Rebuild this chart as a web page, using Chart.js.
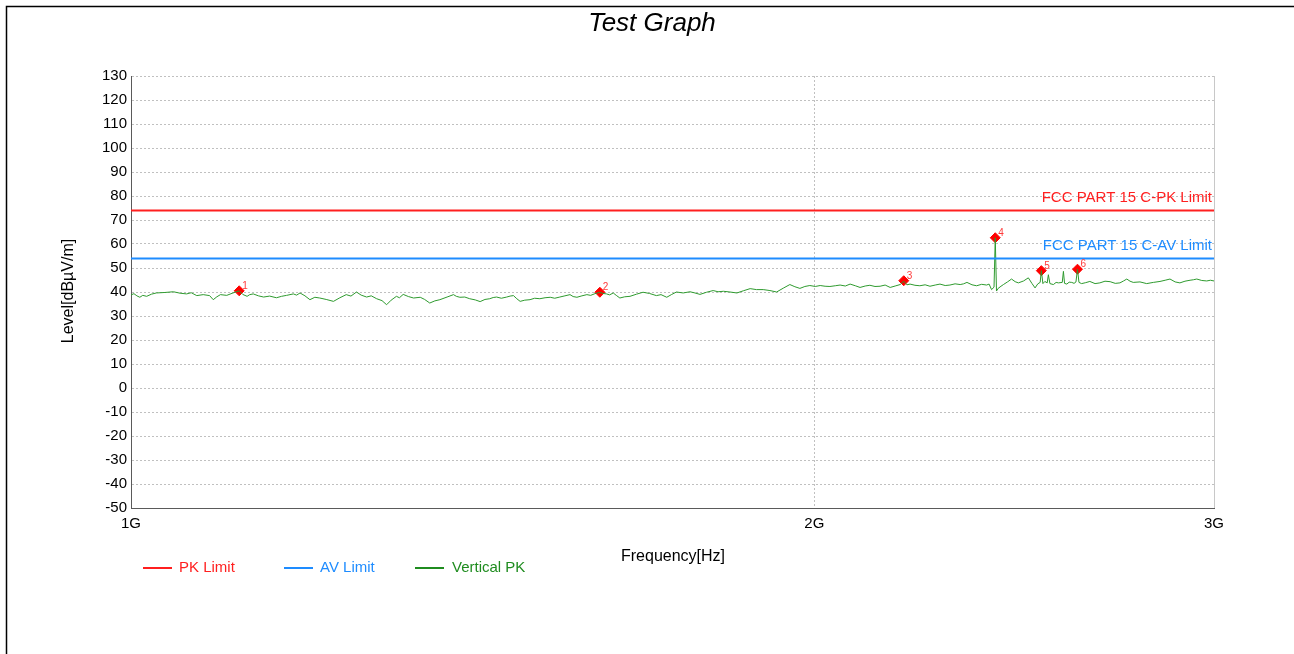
<!DOCTYPE html>
<html>
<head>
<meta charset="utf-8">
<script src="https://cdn.jsdelivr.net/npm/chart.js@4.4.0/dist/chart.umd.min.js"></script>
<style>
  html, body { margin: 0; padding: 0; background: #fff; }
  canvas { display: block; }
</style>
</head>
<body>
<canvas id="testGraph" width="1294" height="654"></canvas>
<script>
// frequency in MHz, level in dBuV/m
const freqMHz = [
  1000,1003,1006,1009,1012,1016,1021,1026,1035,1044,
  1051,1058,1063,1069,1076,1083,1087,1091,1095,1102,
  1109,1116,1120,1125,1128,1132,1138,1144,1151,1159,
  1165,1171,1179,1183,1187,1193,1199,1205,1211,1219,
  1228,1236,1244,1250,1257,1263,1270,1276,1283,1290,
  1296,1302,1309,1313,1318,1325,1332,1341,1347,1354,
  1361,1368,1378,1387,1391,1396,1403,1410,1418,1425,
  1432,1439,1444,1449,1456,1464,1469,1474,1479,1484,
  1491,1499,1506,1514,1522,1530,1537,1545,1553,1561,
  1566,1572,1580,1588,1594,1601,1609,1614,1620,1625,
  1631,1636,1642,1650,1659,1670,1681,1692,1704,1712,
  1722,1730,1739,1751,1763,1772,1781,1793,1805,1814,
  1824,1836,1849,1861,1874,1886,1899,1912,1925,1938,
  1951,1961,1971,1981,1991,2002,2012,2022,2032,2043,
  2053,2064,2074,2085,2095,2106,2116,2127,2138,2149,
  2160,2171,2182,2190,2197,2204,2215,2226,2238,2249,
  2261,2272,2284,2295,2307,2319,2327,2335,2347,2358,
  2370,2382,2388,2394,2400,2403,2406,2410,2417,2423,
  2433,2443,2452,2460,2473,2485,2494,2502,2509,2515,
  2518,2522,2527,2533,2536,2540,2549,2556,2562,2572,
  2575,2578,2584,2590,2597,2603,2608,2612,2616,2623,
  2634,2645,2659,2672,2686,2700,2714,2727,2737,2746,
  2755,2764,2783,2802,2821,2840,2855,2869,2884,2898,
  2913,2928,2938,2948,2963,2978,2989,3000
];
const verticalPK = [
  38.8,39.3,38.4,37.8,38.6,38.2,39.1,39.6,39.8,40.1,
  39.5,39.2,39.7,38.5,38.9,38.5,36.8,38.0,38.9,38.6,
  39.6,40.5,39.0,38.2,38.9,39.2,38.4,37.9,38.3,37.6,
  38.2,38.6,39.2,38.7,39.6,38.4,36.8,37.8,37.5,36.9,
  36.1,37.6,38.9,38.3,40.0,38.7,37.9,38.4,37.2,36.4,
  34.7,36.6,38.2,37.6,39.0,38.1,37.5,37.8,36.9,35.4,
  36.3,36.8,37.9,38.9,38.2,37.8,37.9,37.2,36.7,36.0,
  36.9,37.2,37.7,37.9,37.4,37.9,38.3,38.5,37.2,36.1,
  36.6,36.8,37.4,37.2,37.6,37.8,37.4,37.9,38.4,38.9,
  38.1,37.8,38.4,38.9,38.6,39.3,39.9,39.4,39.2,38.8,
  39.6,38.6,37.5,38.0,38.2,39.1,39.9,39.4,38.5,38.9,
  37.8,38.9,40.0,39.6,40.1,39.6,39.0,39.9,40.6,40.1,
  40.3,40.0,39.6,40.5,41.4,41.0,41.0,40.6,40.0,41.6,
  43.1,42.2,41.5,42.3,42.7,42.3,42.7,42.4,42.3,42.6,
  42.9,42.5,43.3,42.6,41.9,42.5,42.8,42.3,42.4,42.9,
  41.9,42.5,43.1,44.5,43.0,43.3,42.8,42.6,43.0,42.4,
  42.9,43.3,42.7,42.9,43.4,43.1,43.4,44.0,43.0,42.6,
  43.2,42.9,43.3,41.0,42.0,62.6,40.4,41.5,42.4,43.1,
  44.2,45.4,44.3,43.8,44.6,45.9,43.6,41.7,43.4,44.0,
  48.9,43.5,44.4,43.8,47.2,43.5,43.1,44.0,43.8,44.0,
  48.6,43.6,43.3,44.1,44.0,43.6,44.2,49.5,44.0,43.5,
  43.9,44.4,43.5,43.8,44.5,44.3,43.6,43.8,44.6,45.4,
  44.5,44.0,44.2,43.5,44.0,44.4,44.9,45.4,44.2,43.8,
  44.5,44.9,45.1,45.4,44.8,44.6,44.9,44.6
];

const markerFreq = [1116, 1609, 2190, 2403, 2518, 2612];
const markerLevel = [40.5, 39.9, 44.7, 62.6, 48.9, 49.5];
const markerNames = ['1', '2', '3', '4', '5', '6'];

const pkLimit = 74;
const avLimit = 54;
const xTicks = [1000, 2000, 3000];
const xTickLabels = ['1G', '2G', '3G'];

const RED = '#ff1f1f';
const BLUE = '#1e8cff';
const GREEN = '#2e9a2e';
const FONT = '"Liberation Sans", Arial, sans-serif';

// title, axis titles, limit texts, legend, frame
const extras = {
  id: 'extras',
  afterDraw(chart) {
    const c = chart.ctx;
    const area = chart.chartArea;
    const x = chart.scales.x, y = chart.scales.y;
    c.save();

    // frame
    c.strokeStyle = '#000';
    c.lineWidth = 1.5;
    c.beginPath();
    c.moveTo(6.5, 654);
    c.lineTo(6.5, 6.5);
    c.lineTo(1294, 6.5);
    c.stroke();

    // right edge of plot
    c.strokeStyle = '#c8c8c8';
    c.lineWidth = 1;
    c.beginPath();
    c.moveTo(area.right + 0.5, area.top);
    c.lineTo(area.right + 0.5, area.bottom);
    c.stroke();

    c.fillStyle = '#000';
    c.textAlign = 'center';
    c.textBaseline = 'alphabetic';
    c.font = 'italic 26px ' + FONT;
    c.fillText('Test Graph', 652, 31);

    c.font = '16px ' + FONT;
    c.textBaseline = 'middle';
    c.fillText('Frequency[Hz]', 673, 557);
    c.save();
    c.translate(69, 291);
    c.rotate(-Math.PI / 2);
    c.fillText('Level[dBµV/m]', 0, 0);
    c.restore();

    // limit texts
    c.font = '15px ' + FONT;
    c.textAlign = 'right';
    c.textBaseline = 'alphabetic';
    c.fillStyle = RED;
    c.fillText('FCC PART 15 C-PK Limit', area.right - 2, y.getPixelForValue(pkLimit) - 8);
    c.fillStyle = BLUE;
    c.fillText('FCC PART 15 C-AV Limit', area.right - 2, y.getPixelForValue(avLimit) - 8);

    // marker numbers
    c.font = '10px ' + FONT;
    c.textAlign = 'left';
    c.fillStyle = '#ff3a3a';
    markerFreq.forEach((f, i) => {
      c.fillText(markerNames[i], x.getPixelForValue(f) + 3, y.getPixelForValue(markerLevel[i]) - 2);
    });

    // legend
    const legend = [
      ['PK Limit', RED, 143, 179],
      ['AV Limit', BLUE, 284, 320],
      ['Vertical PK', '#1f8c1f', 415, 452]
    ];
    c.font = '15px ' + FONT;
    c.textBaseline = 'middle';
    c.lineWidth = 2;
    legend.forEach(([txt, col, lx, tx]) => {
      c.strokeStyle = col;
      c.beginPath();
      c.moveTo(lx, 568);
      c.lineTo(lx + 29, 568);
      c.stroke();
      c.fillStyle = col;
      c.fillText(txt, tx, 568);
    });
    c.restore();
  }
};

const ctx = document.getElementById('testGraph').getContext('2d');

const testGraph = new Chart(ctx, {
  type: 'line',
  data: {
    datasets: [
      {
        label: 'PK Limit',
        data: [{ x: 1000, y: pkLimit }, { x: 3000, y: pkLimit }],
        borderColor: RED,
        borderWidth: 2,
        pointRadius: 0
      },
      {
        label: 'AV Limit',
        data: [{ x: 1000, y: avLimit }, { x: 3000, y: avLimit }],
        borderColor: BLUE,
        borderWidth: 2,
        pointRadius: 0
      },
      {
        label: 'Vertical PK',
        data: freqMHz.map((f, i) => ({ x: f, y: verticalPK[i] })),
        borderColor: GREEN,
        borderWidth: 1,
        pointRadius: 0,
        tension: 0
      },
      {
        label: 'Markers',
        data: markerFreq.map((f, i) => ({ x: f, y: markerLevel[i] })),
        showLine: false,
        pointStyle: 'rectRot',
        pointRadius: 5,
        pointBackgroundColor: '#ff0000',
        pointBorderColor: '#ff0000',
        pointBorderWidth: 1
      }
    ]
  },
  options: {
    responsive: false,
    animation: false,
    layout: { padding: { left: 0, right: 80, top: 76, bottom: 0 } },
    plugins: {
      legend: { display: false },
      title: { display: false },
      tooltip: { enabled: false }
    },
    scales: {
      x: {
        type: 'logarithmic',
        min: 1000,
        max: 3000,
        afterBuildTicks: s => { s.ticks = xTicks.map(v => ({ value: v })); },
        afterFit: s => { s.height = 146; },
        ticks: {
          autoSkip: false,
          maxRotation: 0,
          padding: 7,
          color: '#000',
          font: { family: FONT, size: 15 },
          callback: v => xTickLabels[xTicks.indexOf(v)]
        },
        grid: {
          drawTicks: false,
          color: c => (c.tick && c.tick.value === 2000) ? '#c0c0c0' : 'rgba(0,0,0,0)'
        },
        border: { color: '#5a5a5a', width: 1, dash: [2, 2] }
      },
      y: {
        min: -50,
        max: 130,
        afterFit: s => { s.width = 131; },
        ticks: {
          stepSize: 10,
          padding: 4,
          color: '#000',
          font: { family: FONT, size: 15 }
        },
        grid: { drawTicks: false, color: '#c0c0c0' },
        border: { color: '#5a5a5a', width: 1, dash: [2, 2] }
      }
    }
  },
  plugins: [extras]
});
</script>
</body>
</html>
